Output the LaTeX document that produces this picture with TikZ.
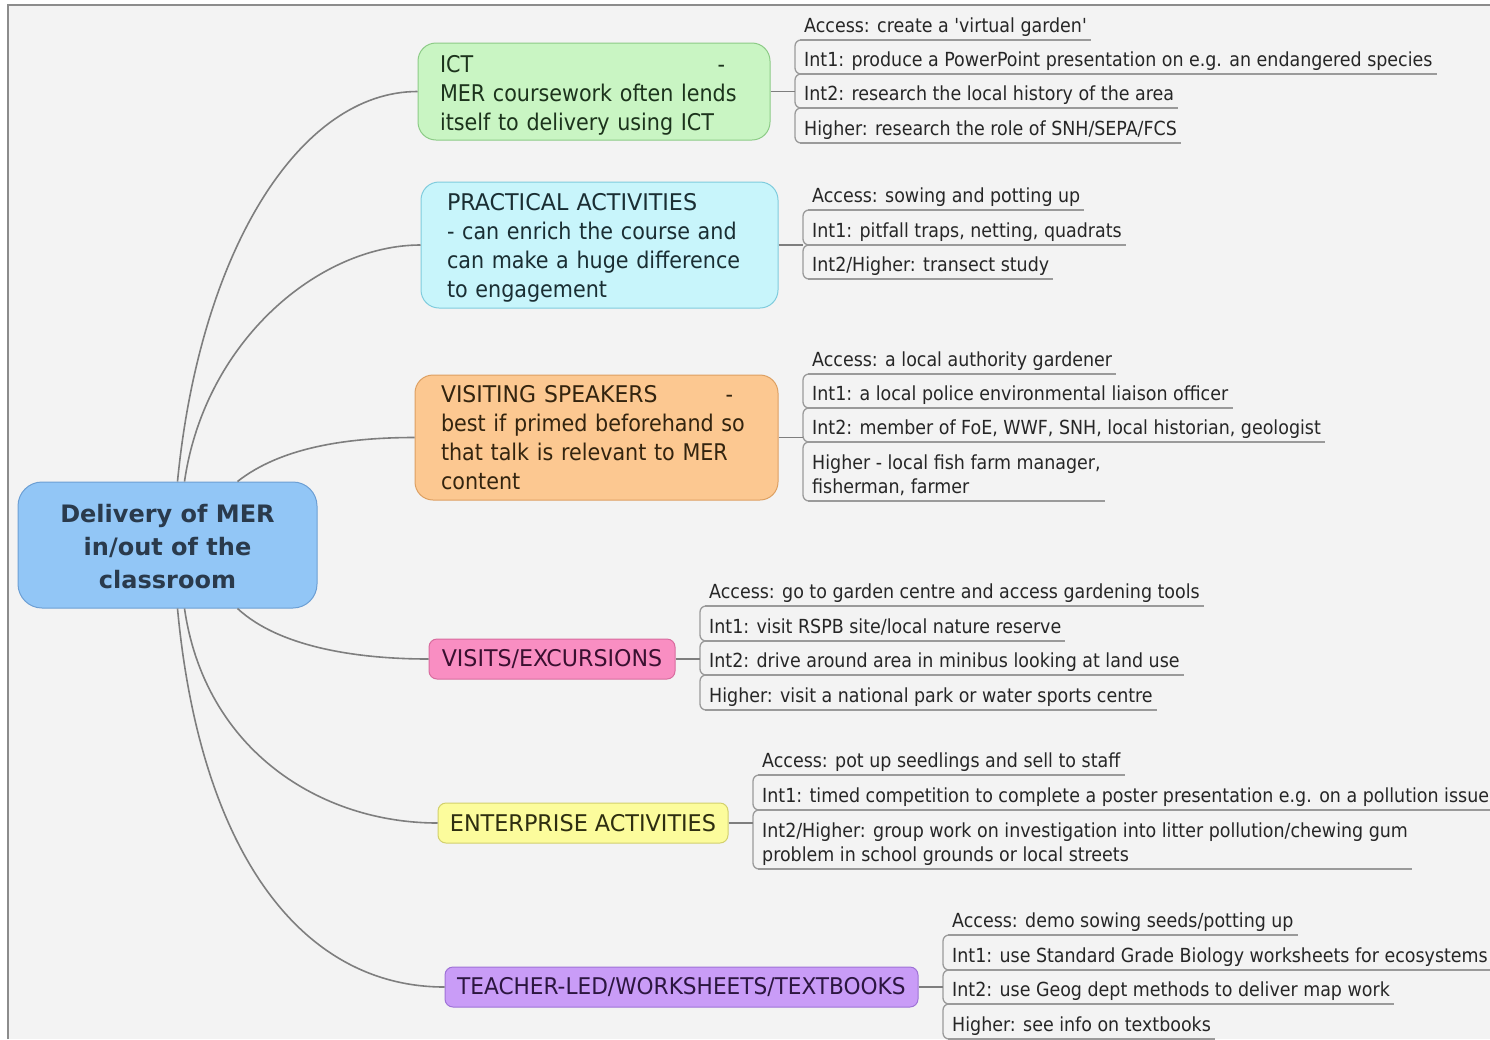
\documentclass[tikz,border=0pt]{standalone}
\usepackage{fontspec}
\setmainfont{DejaVu Sans Condensed}
\newfontfamily\centerfont{DejaVu Sans}
\definecolor{bg}{HTML}{F3F3F3}
\definecolor{framec}{HTML}{8C8C8C}
\definecolor{linec}{HTML}{7E7E7E}
\definecolor{ulc}{HTML}{9A9A9A}
\definecolor{leaftxt}{HTML}{262626}
\definecolor{cfill}{HTML}{92C6F6}
\definecolor{cdraw}{HTML}{6C9FD4}
\definecolor{ctxt}{HTML}{2A3A4C}
\definecolor{gfill}{HTML}{C9F5C3}
\definecolor{gdraw}{HTML}{8CCB86}
\definecolor{gtxt}{HTML}{1C331C}
\definecolor{bfill}{HTML}{C8F5FB}
\definecolor{bdraw}{HTML}{7FCCDD}
\definecolor{btxt}{HTML}{1A2E33}
\definecolor{ofill}{HTML}{FCC891}
\definecolor{odraw}{HTML}{DDA062}
\definecolor{otxt}{HTML}{33240F}
\definecolor{pfill}{HTML}{F98EC2}
\definecolor{pdraw}{HTML}{D86C9E}
\definecolor{ptxt}{HTML}{3A1030}
\definecolor{yfill}{HTML}{FCFC9C}
\definecolor{ydraw}{HTML}{D2D06C}
\definecolor{ytxt}{HTML}{2E2E10}
\definecolor{vfill}{HTML}{C99CF7}
\definecolor{vdraw}{HTML}{9E72D6}
\definecolor{vtxt}{HTML}{2C1640}
\newcommand\dstrut{\rule[-4pt]{0pt}{19pt}}
\newcommand\topstrut{\rule{0pt}{24pt}}
\newcommand\wide[2]{\scalebox{#1}[1]{#2}}
\begin{document}
\begin{tikzpicture}[x=1pt,y=-1pt,
  centerbox/.style={draw=cdraw, fill=cfill, line width=1pt, rounded corners=24pt,
    minimum width=299pt, minimum height=126pt, inner sep=0pt, align=center,
    font=\centerfont\bfseries\fontsize{24}{33}\selectfont, text=ctxt},
  branchbox/.style={line width=1pt, rounded corners=18pt, inner ysep=0pt,
    align=left, font=\fontsize{23}{29}\selectfont},
  singlebox/.style={line width=1pt, rounded corners=8pt, inner sep=0pt,
    minimum height=40pt, font=\fontsize{23}{29}\selectfont},
  leaf/.style={anchor=south west, inner xsep=4pt, inner ysep=3pt, align=left,
    font=\fontsize{19.4}{24}\selectfont, text=leaftxt},
  curve/.style={draw=linec, line width=1.6pt},
  conn/.style={draw=linec, line width=1.3pt},
  brk/.style={draw=ulc, line width=1.3pt, rounded corners=6pt},
  uline/.style={draw=ulc, line width=1.3pt}
]
\useasboundingbox (0,0) rectangle (1490,1039);
\fill[white] (0,0) rectangle (1490,1039);
\fill[bg] (8,5) rectangle (1490,1039);
\draw[framec, line width=1.5pt] (8,1039) -- (8,5) -- (1490,5);

% central node
\node[centerbox] (c) at (167.5,545) {\rule{0pt}{21pt}Delivery of MER\\in/out of the\\classroom};

% branch nodes
\node[branchbox, draw=gdraw, fill=gfill, text=gtxt, inner xsep=22pt, text width=308pt,
  minimum height=97pt] (ict) at (594,91.5)
  {\topstrut\makebox[285pt][l]{ICT\hfill-}\\MER coursework often lends\\itself to delivery using ICT};
\node[branchbox, draw=bdraw, fill=bfill, text=btxt, inner xsep=26pt, text width=305pt,
  minimum height=126pt] (prac) at (599.5,245)
  {\rule{0pt}{22pt}\wide{1.075}{PRACTICAL ACTIVITIES}\\- can enrich the course and\\can make a huge difference\\to engagement};
\node[branchbox, draw=odraw, fill=ofill, text=otxt, inner xsep=26pt, text width=311pt,
  minimum height=125pt] (spk) at (596.5,437.5)
  {\makebox[292pt][l]{\wide{1.06}{VISITING SPEAKERS}\hfill-}\\best if primed beforehand so\\that talk is relevant to MER\\content};
\node[singlebox, draw=pdraw, fill=pfill, text=ptxt, minimum width=246pt] (vis) at (552,659) {\wide{1.07}{VISITS/EXCURSIONS}};
\node[singlebox, draw=ydraw, fill=yfill, text=ytxt, minimum width=290pt] (ent) at (583,823) {\wide{1.08}{ENTERPRISE ACTIVITIES}};
\node[singlebox, draw=vdraw, fill=vfill, text=vtxt, minimum width=473pt] (tea) at (681.5,987) {\wide{1.047}{TEACHER-LED/WORKSHEETS/TEXTBOOKS}};

% curves from centre
\draw[curve] ([xshift=160pt]c.north west) .. controls (200,250) and (300,91.5) .. (ict.west);
\draw[curve] ([xshift=167pt]c.north west) .. controls (205,340) and (320,245) .. (prac.west);
\draw[curve] ([xshift=220pt]c.north west) .. controls (280,448) and (345,437.5) .. (spk.west);
\draw[curve] ([xshift=220pt]c.south west) .. controls (280,648) and (360,659) .. (vis.west);
\draw[curve] ([xshift=167pt]c.south west) .. controls (205,750) and (320,823) .. (ent.west);
\draw[curve] ([xshift=160pt]c.south west) .. controls (200,850) and (300,987) .. (tea.west);

% ICT leaves
\node[leaf] (a1) at (795,40) {\hspace*{5pt}Access: create a \textquotesingle virtual garden\textquotesingle\dstrut};
\node[leaf] (a2) at (795,74) {\hspace*{5pt}Int1: produce a PowerPoint presentation on e.g. an endangered species\dstrut};
\node[leaf] (a3) at (795,108) {\hspace*{5pt}Int2: research the local history of the area\dstrut};
\node[leaf] (a4) at (795,143) {\hspace*{5pt}Higher: research the role of SNH/SEPA/FCS\dstrut};

% PRACTICAL leaves
\node[leaf] (b1) at (803,210) {\hspace*{5pt}Access: sowing and potting up\dstrut};
\node[leaf] (b2) at (803,245) {\hspace*{5pt}Int1: pitfall traps, netting, quadrats\dstrut};
\node[leaf] (b3) at (803,279) {\hspace*{5pt}Int2/Higher: transect study\dstrut};

% SPEAKERS leaves
\node[leaf] (s1) at (803,374) {\hspace*{5pt}Access: a local authority gardener\dstrut};
\node[leaf] (s2) at (803,408) {\hspace*{5pt}Int1: a local police environmental liaison officer\dstrut};
\node[leaf] (s3) at (803,442) {\hspace*{5pt}Int2: member of FoE, WWF, SNH, local historian, geologist\dstrut};
\node[leaf] (s4) at (803,501) {\hspace*{5pt}Higher - local fish farm manager,\\\hspace*{5pt}fisherman, farmer\dstrut};

% VISITS leaves
\node[leaf] (v1) at (700,606) {\hspace*{5pt}Access: go to garden centre and access gardening tools\dstrut};
\node[leaf] (v2) at (700,641) {\hspace*{5pt}Int1: visit RSPB site/local nature reserve\dstrut};
\node[leaf] (v3) at (700,675) {\hspace*{5pt}Int2: drive around area in minibus looking at land use\dstrut};
\node[leaf] (v4) at (700,710) {\hspace*{5pt}Higher: visit a national park or water sports centre\dstrut};

% ENTERPRISE leaves
\node[leaf] (e1) at (753,775) {\hspace*{5pt}Access: pot up seedlings and sell to staff\dstrut};
\node[leaf] (e2) at (753,810) {\hspace*{5pt}Int1: timed competition to complete a poster presentation e.g. on a pollution issue\dstrut};
\node[leaf] (e3) at (753,869) {\hspace*{5pt}Int2/Higher: group work on investigation into litter pollution/chewing gum\\\hspace*{5pt}problem in school grounds or local streets\dstrut};

% TEACHER leaves
\node[leaf] (t1) at (943,935) {\hspace*{5pt}Access: demo sowing seeds/potting up\dstrut};
\node[leaf] (t2) at (943,970) {\hspace*{5pt}Int1: use Standard Grade Biology worksheets for ecosystems\dstrut};
\node[leaf] (t3) at (943,1004) {\hspace*{5pt}Int2: use Geog dept methods to deliver map work\dstrut};
\node[leaf] (t4) at (943,1039) {\hspace*{5pt}Higher: see info on textbooks\dstrut};

% underlines
\foreach \n in {a1,a2,a3,a4,b1,b2,b3,s1,s2,s3,s4,v1,v2,v3,v4,e1,e2,e3,t1,t2,t3,t4}
  \draw[uline] ([xshift=5pt]\n.south west) -- (\n.south east);

% brackets
\foreach \p/\q in {a1/a2,a2/a3,a3/a4,b1/b2,b2/b3,s1/s2,s2/s3,s3/s4,v1/v2,v2/v3,v3/v4,e1/e2,e2/e3,t1/t2,t2/t3,t3/t4}
  \draw[brk] ([xshift=14pt]\p.south west) -- (\p.south west) -- (\q.south west) -- ([xshift=14pt]\q.south west);

% connectors to brackets
\draw[conn] (ict.east) -- (ict.east -| a1.south west);
\draw[conn] (prac.east) -- (prac.east -| b1.south west);
\draw[conn] (spk.east) -- (spk.east -| s1.south west);
\draw[conn] (vis.east) -- (vis.east -| v1.south west);
\draw[conn] (ent.east) -- (ent.east -| e1.south west);
\draw[conn] (tea.east) -- (tea.east -| t1.south west);
\end{tikzpicture}
\end{document}
